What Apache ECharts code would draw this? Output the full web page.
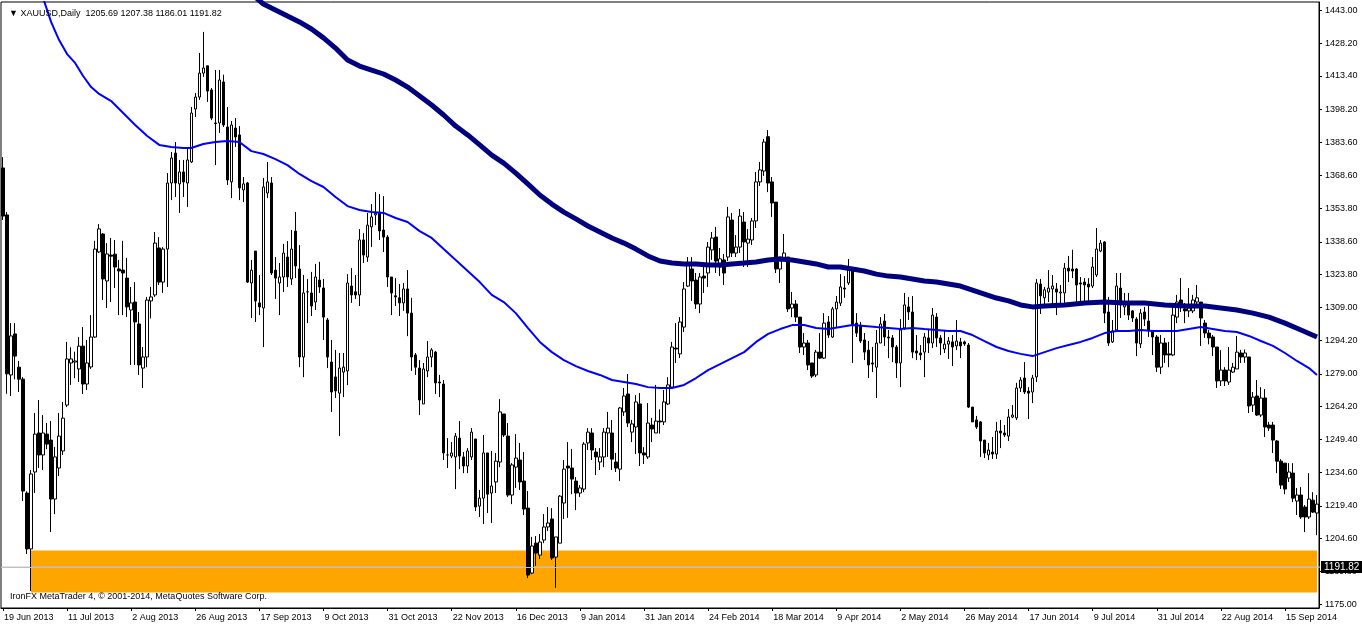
<!DOCTYPE html>
<html><head><meta charset="utf-8">
<script src="https://cdn.jsdelivr.net/npm/echarts/dist/echarts.min.js"></script>
<style>html,body{margin:0;padding:0;background:#fff}#c{width:1362px;height:626px}</style>
</head><body><div id="c"></div>
<script>
// ---- data ----
const opens=[1371.9,1350.7,1278.5,1297.0,1282.0,1276.6,1225.2,1200.0,1234.7,1252.3,1242.4,1251.8,1249.1,1222.5,1236.5,1244.2,1264.9,1283.9,1284.3,1281.2,1291.5,1274.4,1282.1,1295.6,1334.0,1342.1,1320.9,1332.6,1333.0,1326.3,1325.8,1322.2,1307.8,1311.4,1301.5,1281.6,1286.6,1311.9,1314.6,1335.8,1320.4,1335.3,1365.1,1378.6,1364.7,1370.1,1365.1,1374.6,1398.5,1403.9,1414.7,1418.0,1407.1,1392.2,1392.2,1410.7,1390.4,1365.6,1389.9,1386.8,1362.0,1365.1,1320.0,1334.4,1311.0,1308.7,1360.6,1365.1,1325.8,1320.0,1322.7,1331.7,1321.8,1343.4,1326.3,1286.6,1316.0,1315.5,1311.4,1321.3,1317.7,1303.3,1284.3,1277.6,1270.3,1279.8,1280.3,1318.6,1316.0,1314.6,1339.4,1331.7,1345.3,1350.7,1352.0,1343.9,1340.7,1322.7,1314.2,1313.3,1311.0,1317.3,1306.4,1287.5,1281.6,1265.4,1280.3,1286.6,1288.8,1275.3,1274.4,1242.4,1241.9,1241.5,1250.0,1241.5,1237.4,1241.5,1249.6,1219.3,1222.9,1243.3,1225.2,1230.2,1239.2,1260.9,1250.9,1224.3,1236.9,1240.1,1230.6,1218.4,1189.1,1202.6,1197.2,1204.0,1209.9,1213.5,1196.3,1202.6,1220.7,1237.4,1236.5,1230.6,1225.2,1227.0,1247.8,1252.3,1243.7,1239.2,1241.5,1252.3,1252.3,1239.2,1236.0,1261.8,1269.9,1252.7,1255.0,1265.4,1243.3,1241.5,1255.9,1252.3,1257.7,1257.3,1265.4,1273.0,1290.6,1288.0,1300.1,1318.6,1326.3,1321.3,1310.5,1323.1,1324.5,1334.9,1340.7,1327.2,1330.4,1331.7,1348.4,1333.5,1336.2,1347.5,1338.0,1339.4,1348.0,1365.6,1370.5,1386.0,1365.6,1356.5,1326.3,1331.3,1331.7,1308.7,1310.5,1304.6,1291.1,1292.9,1283.9,1278.5,1288.8,1286.1,1302.4,1295.6,1308.3,1310.9,1317.7,1320.0,1326.3,1301.9,1301.0,1294.3,1289.7,1283.9,1282.0,1292.9,1302.8,1295.6,1295.2,1291.1,1283.9,1299.7,1309.2,1306.9,1289.3,1288.4,1288.8,1295.2,1292.9,1304.6,1295.2,1290.2,1292.4,1293.4,1291.6,1293.4,1293.4,1292.0,1264.0,1258.2,1257.3,1249.1,1242.4,1243.7,1242.8,1253.2,1252.3,1250.9,1259.5,1259.1,1272.6,1277.1,1271.2,1270.8,1277.6,1319.5,1313.3,1315.9,1317.3,1317.3,1315.5,1315.5,1326.7,1326.3,1326.3,1320.0,1320.4,1319.5,1318.6,1323.6,1334.4,1338.5,1306.9,1293.4,1298.8,1317.7,1309.2,1311.0,1307.4,1303.7,1292.5,1306.9,1302.8,1298.4,1295.6,1282.0,1292.9,1288.0,1287.5,1304.6,1312.3,1308.3,1307.4,1307.4,1311.4,1311.4,1301.9,1297.4,1295.6,1291.1,1275.8,1280.7,1275.3,1279.8,1281.2,1288.4,1286.6,1286.6,1264.9,1269.0,1260.4,1268.1,1255.9,1255.9,1248.7,1239.6,1238.7,1232.0,1234.2,1221.6,1224.3,1218.9,1214.4,1222.0,1216.2];
const closes=[1350.2,1279.0,1296.1,1287.0,1276.6,1226.1,1200.0,1233.8,1251.8,1242.4,1252.3,1247.3,1222.5,1241.5,1250.9,1259.0,1285.7,1285.7,1284.8,1291.5,1274.4,1283.9,1295.6,1335.3,1344.4,1321.8,1333.1,1332.1,1327.2,1325.4,1324.5,1309.2,1311.0,1302.4,1283.0,1286.6,1312.3,1313.7,1338.0,1320.4,1335.3,1365.1,1376.4,1365.1,1370.1,1365.6,1375.5,1396.7,1403.9,1414.7,1417.0,1406.6,1394.4,1391.9,1411.6,1391.3,1366.5,1391.3,1385.9,1362.9,1364.7,1320.4,1325.8,1311.9,1309.2,1363.3,1365.6,1324.5,1322.2,1322.7,1333.5,1322.7,1335.3,1327.7,1286.6,1315.5,1316.0,1309.6,1322.7,1318.2,1304.6,1286.6,1270.8,1271.3,1281.6,1282.0,1320.0,1314.6,1314.6,1339.4,1332.6,1346.1,1349.8,1351.4,1343.5,1340.7,1322.7,1315.5,1313.7,1311.0,1317.3,1306.4,1286.6,1282.0,1267.2,1281.2,1286.6,1289.8,1274.9,1274.9,1243.3,1242.4,1243.3,1250.9,1241.9,1237.4,1244.2,1252.7,1218.9,1222.9,1243.3,1224.7,1228.4,1239.6,1261.8,1251.4,1224.3,1237.9,1241.0,1230.2,1218.0,1188.2,1201.3,1198.1,1203.1,1209.9,1211.7,1195.9,1205.4,1223.8,1236.0,1236.5,1231.5,1225.2,1227.5,1247.3,1252.7,1244.6,1241.5,1241.5,1252.7,1254.5,1240.5,1236.5,1263.6,1269.0,1256.8,1256.4,1266.3,1243.3,1242.4,1256.8,1254.1,1257.7,1257.3,1266.3,1274.0,1291.1,1290.2,1302.4,1317.3,1328.1,1320.9,1310.5,1322.7,1322.2,1336.2,1340.3,1329.9,1330.9,1324.5,1349.8,1333.5,1336.2,1350.2,1338.5,1339.8,1348.0,1365.6,1371.0,1383.6,1365.1,1356.1,1326.3,1331.7,1333.5,1308.3,1310.5,1304.6,1291.1,1292.9,1283.0,1278.0,1288.8,1286.1,1301.9,1296.5,1308.3,1311.4,1318.2,1317.3,1327.2,1301.5,1297.4,1293.8,1288.8,1283.0,1283.4,1292.9,1301.5,1295.6,1295.2,1291.1,1283.9,1298.8,1310.1,1306.9,1288.8,1288.4,1287.5,1295.6,1292.9,1305.5,1295.2,1292.9,1292.4,1293.8,1291.1,1293.8,1291.6,1292.5,1264.0,1257.3,1255.0,1248.7,1243.3,1244.6,1242.8,1253.2,1252.3,1251.4,1259.5,1260.4,1272.6,1276.2,1270.8,1270.3,1277.1,1320.0,1314.2,1316.9,1317.7,1318.6,1315.9,1315.9,1326.7,1325.4,1325.4,1319.1,1319.5,1319.1,1318.2,1327.2,1335.3,1338.0,1306.4,1292.9,1298.4,1318.6,1310.1,1311.4,1305.5,1304.2,1292.9,1306.4,1303.7,1298.4,1295.6,1282.0,1292.9,1287.5,1287.5,1305.5,1311.4,1309.2,1307.4,1308.7,1312.3,1313.3,1304.2,1297.4,1295.2,1291.1,1275.8,1280.7,1275.8,1280.7,1282.0,1288.8,1286.6,1288.4,1264.5,1268.5,1260.4,1268.1,1255.0,1254.5,1249.1,1239.6,1228.8,1227.0,1234.7,1222.9,1224.3,1214.4,1214.4,1222.5,1216.6,1220.2];
const lows=[1348.4,1270.0,1269.0,1276.5,1270.8,1221.6,1197.7,1181.0,1225.2,1236.5,1235.6,1245.0,1207.6,1215.7,1232.9,1242.4,1264.0,1274.0,1277.0,1275.3,1269.9,1271.7,1281.2,1295.2,1333.5,1312.3,1308.7,1311.4,1317.7,1305.5,1305.5,1304.6,1283.0,1283.0,1278.5,1272.6,1282.0,1304.0,1313.7,1319.1,1315.5,1318.2,1357.4,1358.8,1351.6,1358.8,1354.3,1374.1,1394.9,1402.6,1413.0,1401.7,1393.5,1373.2,1387.7,1390.4,1364.2,1358.3,1381.4,1357.4,1356.5,1320.0,1304.2,1302.4,1305.5,1291.1,1358.3,1323.6,1312.8,1305.5,1315.9,1318.2,1319.1,1322.2,1282.0,1277.5,1301.9,1305.1,1307.8,1315.5,1294.3,1281.6,1261.8,1268.1,1250.9,1268.5,1273.9,1311.0,1312.8,1309.6,1329.0,1329.5,1336.2,1346.1,1339.4,1334.0,1318.2,1305.5,1309.6,1305.1,1307.4,1296.0,1280.3,1278.5,1260.4,1265.4,1277.5,1282.0,1269.9,1268.5,1240.1,1236.5,1241.0,1227.0,1236.0,1234.2,1234.2,1240.1,1217.1,1214.4,1211.2,1216.2,1211.7,1225.2,1236.9,1250.5,1223.4,1220.2,1227.5,1226.6,1215.3,1186.8,1188.6,1192.3,1195.4,1202.6,1208.1,1195.0,1182.4,1202.6,1213.5,1214.0,1224.7,1217.5,1223.4,1225.6,1244.6,1240.1,1233.3,1235.6,1236.9,1241.5,1235.6,1234.7,1230.6,1260.0,1255.0,1248.2,1242.8,1237.4,1238.3,1240.6,1248.2,1252.3,1252.0,1255.9,1264.9,1272.6,1283.9,1286.1,1297.9,1318.2,1311.9,1308.3,1306.4,1315.5,1318.2,1330.4,1324.5,1323.1,1319.1,1329.9,1331.7,1331.7,1333.5,1327.2,1327.2,1337.1,1344.8,1363.8,1368.3,1361.0,1349.8,1324.5,1320.0,1330.8,1306.9,1304.6,1302.4,1288.4,1287.5,1280.7,1277.1,1277.5,1285.7,1285.7,1295.2,1295.2,1300.1,1309.6,1313.3,1319.1,1283.9,1295.6,1292.9,1285.2,1277.1,1279.8,1268.1,1292.9,1291.6,1286.1,1284.3,1277.1,1273.0,1298.8,1303.3,1286.1,1285.2,1285.2,1277.5,1288.4,1290.6,1291.1,1287.5,1288.4,1285.7,1282.5,1289.7,1286.1,1291.6,1263.6,1257.3,1254.1,1241.5,1241.0,1240.1,1240.6,1240.6,1245.5,1250.5,1248.7,1259.0,1258.2,1270.8,1269.9,1258.6,1265.8,1275.3,1306.0,1308.7,1311.4,1310.0,1305.5,1310.0,1311.0,1320.4,1322.2,1311.0,1311.0,1311.0,1311.9,1317.7,1322.7,1333.9,1301.9,1291.6,1292.9,1297.9,1304.2,1305.5,1303.3,1302.4,1287.0,1290.6,1300.6,1295.6,1287.5,1279.8,1278.9,1283.9,1282.0,1287.0,1301.9,1306.9,1301.9,1304.6,1306.4,1308.7,1291.6,1295.2,1292.3,1287.0,1272.6,1273.5,1273.5,1274.0,1279.4,1281.2,1283.9,1284.0,1261.3,1261.8,1260.0,1259.5,1250.5,1253.2,1243.3,1234.2,1227.0,1224.7,1230.2,1221.1,1215.3,1213.5,1207.6,1213.5,1216.2,1206.2];
const highs=[1376.8,1352.0,1301.9,1301.9,1284.8,1277.5,1226.0,1235.6,1261.3,1267.2,1260.4,1256.8,1257.7,1246.0,1261.3,1266.3,1293.4,1291.0,1289.0,1295.6,1300.1,1294.3,1305.5,1339.0,1346.6,1342.5,1338.0,1340.3,1339.4,1330.4,1339.0,1331.3,1318.2,1320.4,1306.9,1291.1,1313.7,1318.2,1343.0,1340.7,1336.2,1369.6,1379.1,1383.6,1375.5,1375.5,1380.9,1399.4,1405.7,1423.8,1433.3,1418.0,1408.0,1416.1,1416.1,1414.0,1399.4,1393.1,1394.4,1390.8,1367.8,1365.6,1330.4,1334.4,1323.6,1367.4,1374.6,1367.8,1331.7,1329.0,1337.6,1338.9,1343.9,1352.0,1337.1,1323.6,1321.8,1325.0,1328.6,1329.5,1321.8,1304.2,1294.3,1289.8,1288.4,1288.4,1324.0,1326.7,1323.6,1344.3,1342.5,1351.6,1355.6,1361.0,1360.1,1359.2,1341.6,1322.7,1322.2,1319.5,1320.0,1325.8,1313.3,1288.4,1285.2,1283.9,1293.8,1290.6,1289.3,1278.5,1276.2,1250.0,1248.2,1252.3,1257.7,1243.7,1245.5,1254.5,1249.6,1226.6,1251.4,1243.3,1244.2,1243.3,1267.6,1260.9,1256.8,1238.7,1251.8,1247.8,1243.7,1226.1,1205.4,1205.8,1206.7,1215.7,1218.9,1218.4,1205.4,1224.3,1240.1,1248.2,1245.1,1232.4,1228.8,1248.2,1254.5,1254.5,1245.5,1245.5,1254.5,1261.8,1258.2,1243.3,1264.0,1272.6,1278.9,1258.2,1269.4,1270.3,1245.9,1265.8,1259.1,1274.0,1263.0,1271.7,1277.5,1293.4,1301.9,1304.6,1320.4,1331.7,1331.7,1324.5,1324.5,1328.1,1338.5,1343.0,1345.3,1335.8,1333.1,1354.3,1351.6,1341.6,1353.4,1352.0,1344.3,1349.3,1370.1,1374.6,1385.0,1389.0,1367.8,1356.5,1331.7,1342.1,1331.7,1315.9,1312.3,1304.6,1297.4,1294.3,1283.9,1289.8,1297.4,1306.4,1305.1,1309.2,1314.1,1324.0,1323.1,1330.8,1327.2,1306.4,1302.4,1297.4,1293.8,1291.1,1298.8,1304.6,1306.0,1298.8,1296.5,1292.0,1303.7,1315.5,1313.7,1314.1,1296.5,1292.0,1297.4,1298.8,1308.7,1306.4,1296.5,1298.8,1295.6,1296.5,1303.3,1295.2,1294.0,1292.9,1264.0,1260.0,1257.7,1249.1,1247.8,1250.5,1257.3,1258.2,1255.9,1263.1,1264.9,1274.9,1277.5,1284.3,1273.0,1278.5,1321.8,1321.8,1318.2,1325.8,1323.6,1320.0,1319.1,1329.0,1332.2,1335.0,1326.7,1322.7,1322.2,1322.2,1331.7,1344.8,1339.4,1338.9,1313.7,1303.3,1324.5,1324.5,1315.5,1315.5,1307.8,1304.6,1308.3,1309.2,1311.4,1298.8,1296.5,1296.5,1295.2,1293.4,1309.2,1314.6,1322.2,1311.0,1317.7,1314.6,1319.1,1311.4,1303.3,1298.8,1296.5,1291.1,1289.7,1282.0,1291.1,1283.9,1296.1,1289.8,1290.0,1286.6,1270.8,1276.2,1273.0,1272.1,1257.3,1257.3,1249.1,1240.5,1238.7,1238.7,1238.7,1227.5,1227.9,1219.8,1234.2,1225.6,1224.3];
// moving averages read as [bar index, price]
const maFast=[[9,1452.5],[10,1448.6],[12,1437.8],[14,1429.6],[16,1423.3],[18,1419.3],[20,1413.4],[22,1408.4],[24,1405.3],[27,1402.1],[30,1396.7],[33,1391.3],[36,1386.3],[39,1382.3],[42,1381.4],[45,1380.9],[47,1380.9],[50,1382.7],[53,1383.6],[56,1384.1],[59,1383.6],[62,1379.5],[65,1378.2],[68,1375.9],[71,1373.2],[74,1369.2],[77,1366.0],[80,1363.3],[83,1358.8],[86,1354.7],[89,1352.9],[92,1352.0],[95,1351.6],[98,1349.3],[101,1347.5],[104,1343.4],[107,1340.3],[110,1335.3],[113,1330.4],[116,1325.4],[119,1320.4],[122,1314.6],[125,1311.4],[128,1306.4],[131,1299.7],[134,1293.4],[137,1288.8],[140,1285.2],[143,1282.5],[146,1280.3],[149,1278.5],[152,1276.2],[155,1275.3],[158,1274.4],[161,1273.0],[164,1272.6],[167,1272.6],[170,1274.0],[173,1277.1],[176,1280.7],[179,1283.4],[182,1286.1],[185,1288.8],[188,1293.4],[191,1297.0],[194,1299.2],[197,1301.0],[200,1301.0],[203,1299.7],[206,1299.2],[209,1300.1],[212,1301.0],[215,1300.6],[218,1300.1],[221,1299.7],[224,1299.2],[227,1299.7],[230,1299.2],[233,1298.8],[236,1298.3],[239,1298.3],[242,1296.5],[245,1293.8],[248,1291.1],[251,1289.3],[254,1288.0],[257,1287.0],[260,1288.8],[263,1290.6],[266,1292.0],[269,1293.4],[272,1295.2],[275,1297.4],[278,1298.3],[281,1298.3],[284,1298.8],[287,1298.3],[290,1298.3],[293,1298.3],[296,1299.2],[299,1300.1],[302,1299.2],[305,1298.3],[308,1297.9],[311,1296.1],[314,1293.8],[317,1291.6],[320,1288.4],[323,1284.8],[326,1281.6],[328,1278.5]];
const maSlow=[[62,1450.5],[65,1445.9],[68,1443.2],[71,1440.5],[74,1437.8],[77,1434.6],[80,1430.6],[83,1426.0],[86,1420.6],[89,1417.9],[92,1416.1],[95,1414.3],[98,1411.6],[101,1408.4],[104,1404.4],[107,1400.3],[110,1395.8],[113,1390.8],[116,1386.8],[119,1382.3],[122,1377.7],[125,1374.1],[128,1369.6],[131,1364.7],[134,1359.7],[137,1355.6],[140,1352.0],[143,1348.9],[146,1345.7],[149,1343.0],[152,1340.3],[155,1338.0],[158,1335.3],[161,1332.2],[164,1329.9],[167,1329.0],[170,1328.6],[173,1328.6],[176,1328.1],[179,1328.1],[182,1328.6],[185,1329.0],[188,1329.5],[191,1330.4],[194,1330.8],[197,1330.4],[200,1329.5],[203,1328.6],[206,1327.2],[209,1327.2],[212,1326.3],[215,1325.4],[218,1324.0],[221,1323.1],[224,1322.7],[227,1321.8],[230,1320.9],[233,1320.4],[236,1319.5],[239,1318.6],[242,1316.8],[245,1315.0],[248,1313.2],[251,1311.9],[254,1310.1],[257,1309.2],[260,1309.6],[265,1310.1],[270,1311.0],[275,1311.4],[280,1311.0],[285,1311.0],[290,1310.1],[295,1309.6],[300,1309.6],[304,1308.7],[308,1307.8],[312,1306.4],[316,1304.6],[320,1301.9],[324,1298.8],[328,1295.6]];
const priceTicks=[1175.00,1189.80,1204.60,1219.40,1234.60,1249.40,1264.20,1279.00,1294.20,1309.00,1323.80,1338.60,1353.80,1368.60,1383.60,1398.20,1413.40,1428.20,1443.00];
const zoneTop=1199.3, zoneBottom=1180.3, zoneStartBar=7;
const bidPrice=1191.82;
const headerText='\u25BC XAUUSD,Daily  1205.69 1207.38 1186.01 1191.82';
const footerText='IronFX MetaTrader 4, \u00A9 2001-2014, MetaQuotes Software Corp.';
// trading-day categories (weekdays, market holidays skipped)
const holidays=['2013-12-25','2014-01-01','2014-04-18'];
const MONTHS=['Jan','Feb','Mar','Apr','May','Jun','Jul','Aug','Sep','Oct','Nov','Dec'];
function buildDates(startIso,count){
  const out=[];const d=new Date(startIso+'T00:00:00Z');
  while(out.length<count){
    const wd=d.getUTCDay();const iso=d.toISOString().slice(0,10);
    if(wd!==0&&wd!==6&&holidays.indexOf(iso)<0){out.push(d.getUTCDate()+' '+MONTHS[d.getUTCMonth()]+' '+d.getUTCFullYear());}
    d.setUTCDate(d.getUTCDate()+1);
  }
  return out;
}
const dates=buildDates('2013-06-19',opens.length);

// ---- chart ----
const ohlc=opens.map((o,i)=>[o,closes[i],lows[i],highs[i]]);
const N=opens.length;
const FONT='Liberation Sans';
const chart=echarts.init(document.getElementById('c'),null,{renderer:'canvas'});
chart.setOption({
  animation:false,
  backgroundColor:'#ffffff',
  title:[
    {text:headerText,left:4,top:4,textStyle:{fontSize:9,fontWeight:'normal',fontFamily:FONT,color:'#000'}},
    {text:footerText,left:5,bottom:20,textStyle:{fontSize:9,fontWeight:'normal',fontFamily:FONT,color:'#000'}}
  ],
  grid:{left:1,top:2,right:43,bottom:18,show:true,borderColor:'#000',borderWidth:1},
  xAxis:{type:'category',data:dates,boundaryGap:true,
    axisLine:{show:true,lineStyle:{color:'#000',width:1}},
    axisTick:{show:true,interval:15,alignWithLabel:true,length:3,lineStyle:{color:'#000'}},
    axisLabel:{interval:15,align:'left',color:'#000',fontSize:9,fontFamily:FONT,margin:5,padding:[0,0,0,1]},
    splitLine:{show:false}},
  yAxis:{type:'value',position:'right',min:1173.33,max:1446.79,
    axisLine:{show:true,lineStyle:{color:'#000',width:1}},
    axisTick:{show:true,length:3,customValues:priceTicks,lineStyle:{color:'#000'}},
    axisLabel:{customValues:priceTicks,formatter:v=>v.toFixed(2),color:'#000',fontSize:9,fontFamily:FONT,margin:6},
    splitLine:{show:false}},
  series:[
    {type:'line',data:[],z:1,silent:true,
      markArea:{silent:true,itemStyle:{color:'#FFA500',opacity:1},
        data:[[{xAxis:zoneStartBar,yAxis:zoneTop},{xAxis:N-1,yAxis:zoneBottom}]]}},
    {type:'line',z:2,silent:true,symbol:'none',clip:true,
      data:[[-0.5,bidPrice],[N-0.5,bidPrice]],lineStyle:{color:'#C0C0C0',width:1}},
    {type:'candlestick',data:ohlc,barWidth:3,z:3,
      itemStyle:{color:'#ffffff',color0:'#000000',borderColor:'#000000',borderColor0:'#000000',borderColorDoji:'#000000',borderWidth:1},
      markLine:{silent:true,symbol:['none','none'],lineStyle:{color:'#C0C0C0',type:'solid',width:1},
        label:{show:true,position:'end',distance:2,formatter:bidPrice.toFixed(2),color:'#fff',backgroundColor:'#000',
          padding:[1,3,1,3],fontSize:10,fontFamily:FONT},
        data:[{yAxis:bidPrice}]}},
    {type:'line',data:maFast,symbol:'none',z:4,silent:true,lineStyle:{color:'#0000FF',width:2}},
    {type:'line',data:maSlow,symbol:'none',z:4,silent:true,lineStyle:{color:'#000080',width:5}}
  ]
});
</script></body></html>
